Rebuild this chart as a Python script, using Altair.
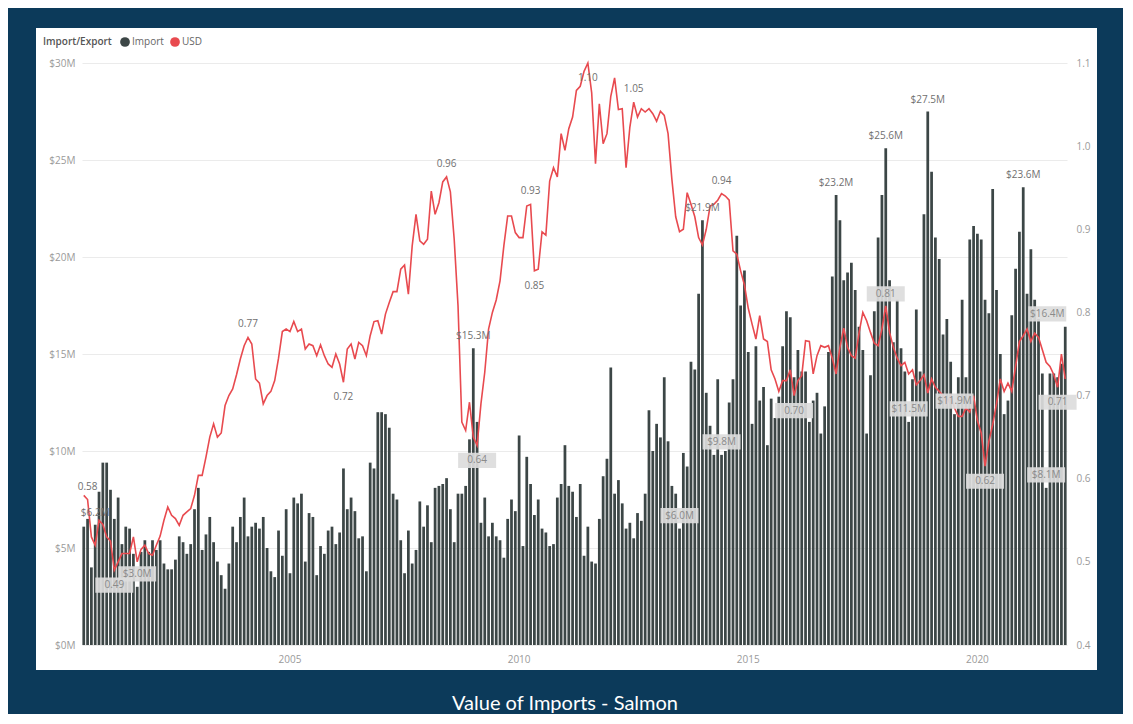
import altair as alt
import pandas as pd

# ---------------- data ----------------
months = pd.period_range("2000-07", "2021-12", freq="M").strftime("%Y-%m").tolist()

imports = (
    [6.1, 6.5, 4.0, 6.2, 7.9, 9.4]
    + [9.4, 8.0, 6.5, 7.6, 5.2, 6.1, 6.0, 4.7, 3.0, 4.8, 5.4, 4.8]
    + [5.4, 4.9, 5.4, 4.2, 3.9, 3.9, 4.4, 5.6, 5.3, 4.7, 5.2, 7.0]
    + [8.1, 4.9, 5.7, 6.6, 5.3, 4.3, 3.6, 2.9, 4.2, 6.1, 5.3, 6.6]
    + [7.6, 5.6, 6.1, 6.3, 6.0, 6.6, 5.0, 3.8, 3.5, 5.9, 4.6, 7.0]
    + [3.7, 7.6, 7.3, 7.8, 4.3, 6.8, 6.6, 3.6, 5.1, 4.7, 5.9, 6.1]
    + [5.2, 5.8, 9.1, 7.0, 7.6, 6.9, 5.5, 5.6, 3.8, 9.4, 9.1, 12.0]
    + [12.0, 11.9, 11.2, 7.8, 7.5, 5.4, 3.7, 5.9, 4.2, 4.9, 7.4, 6.1]
    + [7.2, 5.3, 8.1, 8.2, 8.3, 8.6, 7.0, 5.3, 7.8, 7.8, 8.2, 10.6]
    + [15.3, 11.5, 6.3, 7.6, 5.6, 6.3, 5.6, 5.4, 4.5, 6.5, 7.5, 6.9]
    + [10.8, 5.1, 9.7, 8.3, 6.7, 7.5, 6.0, 5.8, 5.1, 5.2, 7.6, 8.3]
    + [10.3, 8.2, 7.9, 6.6, 8.3, 4.6, 6.1, 4.3, 4.2, 6.5, 8.7, 9.6]
    + [14.3, 7.8, 8.5, 7.3, 6.0, 6.3, 5.5, 6.8, 6.4, 7.8, 12.1, 10.0]
    + [11.4, 10.7, 13.8, 10.5, 8.2, 7.8, 6.0, 9.9, 9.2, 14.6, 14.2, 18.1]
    + [21.9, 13.0, 11.3, 9.8, 13.7, 9.8, 10.0, 12.5, 13.7, 21.1, 17.5, 19.3]
    + [15.1, 11.4, 15.4, 12.6, 13.3, 10.3, 12.7, 11.7, 12.8, 15.4, 17.2, 16.9]
    + [13.8, 15.2, 14.1, 14.1, 11.5, 12.6, 13.0, 10.9, 12.3, 15.1, 19.0, 23.2]
    + [21.9, 18.8, 19.2, 19.7, 18.3, 16.4, 15.2, 10.9, 13.9, 17.2, 21.0, 23.2]
    + [25.6, 18.8, 15.6, 17.8, 15.3, 14.1, 11.5, 13.7, 17.3, 14.1, 22.2, 27.5]
    + [24.4, 21.0, 19.9, 16.0, 16.8, 14.6, 11.9, 13.8, 17.8, 13.8, 20.9, 21.6]
    + [21.2, 20.9, 17.8, 17.1, 23.5, 18.3, 15.0, 11.9, 12.6, 17.0, 19.4, 21.3]
    + [23.6, 18.1, 20.4, 17.8, 16.8, 14.0, 8.1, 14.0, 14.0, 13.8, 14.5, 16.4]
)

usd = (
    [0.58, 0.575, 0.53, 0.52, 0.55, 0.545]
    + [0.53, 0.525, 0.49, 0.50, 0.51, 0.51, 0.51, 0.53, 0.50, 0.515, 0.52, 0.51]
    + [0.508, 0.52, 0.531, 0.55, 0.566, 0.556, 0.552, 0.544, 0.556, 0.56, 0.564, 0.58]
    + [0.604, 0.604, 0.626, 0.65, 0.666, 0.65, 0.655, 0.688, 0.70, 0.708, 0.725, 0.744]
    + [0.76, 0.77, 0.762, 0.72, 0.715, 0.69, 0.70, 0.705, 0.718, 0.745, 0.777, 0.78]
    + [0.777, 0.789, 0.777, 0.78, 0.756, 0.762, 0.76, 0.748, 0.761, 0.748, 0.738, 0.734]
    + [0.75, 0.738, 0.716, 0.756, 0.762, 0.744, 0.764, 0.76, 0.748, 0.772, 0.789, 0.79]
    + [0.774, 0.798, 0.812, 0.825, 0.825, 0.852, 0.857, 0.822, 0.88, 0.918, 0.886, 0.882]
    + [0.888, 0.946, 0.918, 0.932, 0.957, 0.963, 0.945, 0.888, 0.808, 0.668, 0.658, 0.692]
    + [0.65, 0.64, 0.69, 0.728, 0.78, 0.80, 0.815, 0.838, 0.88, 0.916, 0.916, 0.896]
    + [0.89, 0.89, 0.928, 0.93, 0.85, 0.852, 0.897, 0.893, 0.958, 0.974, 0.963, 1.015]
    + [0.995, 1.021, 1.035, 1.067, 1.072, 1.09, 1.10, 1.064, 0.979, 1.051, 1.003, 1.015]
    + [1.06, 1.082, 1.044, 1.045, 0.974, 1.023, 1.053, 1.035, 1.045, 1.041, 1.045, 1.039]
    + [1.03, 1.042, 1.037, 1.015, 0.96, 0.915, 0.897, 0.90, 0.944, 0.93, 0.915, 0.89]
    + [0.881, 0.90, 0.928, 0.93, 0.935, 0.943, 0.94, 0.935, 0.874, 0.87, 0.85, 0.833]
    + [0.805, 0.786, 0.768, 0.796, 0.768, 0.765, 0.731, 0.72, 0.705, 0.718, 0.718, 0.731]
    + [0.70, 0.718, 0.724, 0.766, 0.765, 0.726, 0.748, 0.76, 0.758, 0.76, 0.745, 0.726]
    + [0.758, 0.781, 0.758, 0.748, 0.745, 0.775, 0.80, 0.79, 0.776, 0.763, 0.76, 0.78]
    + [0.808, 0.776, 0.758, 0.745, 0.736, 0.74, 0.726, 0.731, 0.713, 0.718, 0.725, 0.703]
    + [0.72, 0.71, 0.705, 0.70, 0.69, 0.70, 0.685, 0.675, 0.675, 0.685, 0.68, 0.70]
    + [0.67, 0.655, 0.615, 0.645, 0.665, 0.69, 0.72, 0.705, 0.715, 0.705, 0.735, 0.765]
    + [0.772, 0.78, 0.765, 0.775, 0.77, 0.755, 0.74, 0.735, 0.725, 0.71, 0.75, 0.72]
)

year_ticks = ["2005-01", "2010-01", "2015-01", "2020-01"]
left_ticks = [0, 5, 10, 15, 20, 25, 30]
right_ticks = [0.4, 0.5, 0.6, 0.7, 0.8, 0.9, 1.0, 1.1]
series_names = ["Import", "USD"]

# data labels (month index, text)
bar_plain_idx = [3, 102, 162, 197, 210, 221, 246]
bar_plain_txt = ["$6.2M", "$15.3M", "$21.9M", "$23.2M", "$25.6M", "$27.5M", "$23.6M"]
bar_box_idx = [14, 156, 167, 216, 228, 252]
bar_box_txt = ["$3.0M", "$6.0M", "$9.8M", "$11.5M", "$11.9M", "$8.1M"]
bar_box_end_idx = [257]
bar_box_end_txt = ["$16.4M"]
usd_above_idx = [1, 43, 95, 117, 144, 167]
usd_above_txt = ["0.58", "0.77", "0.96", "0.93", "1.05", "0.94"]
usd_below_idx = [68, 118, 132]
usd_below_txt = ["0.72", "0.85", "1.10"]
usd_box_above_idx = [210]
usd_box_above_txt = ["0.81"]
usd_box_below_idx = [8, 103, 186, 236, 255]
usd_box_below_txt = ["0.49", "0.64", "0.70", "0.62", "0.71"]

title_text = "Value of Imports - Salmon"

# ---------------- styling ----------------
NAVY = "#0c3a5a"
BAR = "#3c4646"
LINE = "#e84a4f"
AXIS_GREY = "#9a9a9a"
FONT = "Open Sans"
W, H = 985, 582
PAD = {"left": 74, "top": 55, "right": 56, "bottom": 69}
BOX = "M-1,-0.4L1,-0.4L1,0.4L-1,0.4Z"

df = pd.DataFrame({"month": months, "Import": imports, "USD": usd})


def labels(idx, txt, values):
    return pd.DataFrame({"month": [months[i] for i in idx],
                         "val": [values[i] for i in idx],
                         "txt": txt})


x_scale = alt.Scale(domain=months, paddingInner=0.28, paddingOuter=0.1)
yl_scale = alt.Scale(domain=[0, 30], nice=False, zero=True)
yr_scale = alt.Scale(domain=[0.4, 1.1], nice=False, zero=False)

x_axis = alt.Axis(values=year_ticks, labelExpr="slice(datum.value, 0, 4)", title=None,
                  ticks=False, domain=False, grid=False, labelAngle=0, labelPadding=9,
                  labelColor=AXIS_GREY, labelFontSize=10, labelFont=FONT)
x_enc = alt.X("month:O", scale=x_scale, axis=x_axis)

left_axis = alt.Axis(values=left_ticks, labelExpr="'$' + datum.value + 'M'", title=None,
                     grid=True, gridColor="#ebebeb", gridWidth=1, domain=False, ticks=False,
                     labelColor=AXIS_GREY, labelFontSize=10, labelFont=FONT, labelPadding=7)
right_axis = alt.Axis(orient="right", values=right_ticks, format=".1f", title=None,
                      grid=False, domain=False, ticks=False, labelColor=AXIS_GREY,
                      labelFontSize=10, labelFont=FONT, labelPadding=9)

one = pd.DataFrame({"k": [0]})

# navy frame around the white card (canvas background is white)
L, T, R, B = -PAD["left"], -PAD["top"], W + PAD["right"], H + PAD["bottom"]
frame_top = alt.Chart(one).mark_rect(color=NAVY).encode(
    x=alt.value(L), x2=alt.value(R), y=alt.value(T), y2=alt.value(-35))
frame_bottom = alt.Chart(one).mark_rect(color=NAVY).encode(
    x=alt.value(L), x2=alt.value(R), y=alt.value(H + 25), y2=alt.value(B))
frame_left = alt.Chart(one).mark_rect(color=NAVY).encode(
    x=alt.value(L), x2=alt.value(-46), y=alt.value(T), y2=alt.value(B))
frame_right = alt.Chart(one).mark_rect(color=NAVY).encode(
    x=alt.value(W + 30), x2=alt.value(R), y=alt.value(T), y2=alt.value(B))

bars = alt.Chart(df).mark_bar(color=BAR).encode(
    x=x_enc, y=alt.Y("Import:Q", scale=yl_scale, axis=left_axis)
)

line = alt.Chart(df).mark_line(color=LINE, strokeWidth=1.6).encode(
    x=x_enc, y=alt.Y("USD:Q", scale=yr_scale, axis=right_axis)
)


def text_layer(data, scale, dy):
    return alt.Chart(data).mark_text(fontSize=10, font=FONT, color="#707070", dy=dy).encode(
        x=x_enc, y=alt.Y("val:Q", scale=scale, axis=None), text="txt:N"
    )


def boxed_layer(data, scale, dy, dx=0):
    box = alt.Chart(data).mark_point(shape=BOX, size=1444, filled=True, color="#dcdcdc",
                                     opacity=0.92, strokeWidth=0, yOffset=dy,
                                     xOffset=dx).encode(
        x=x_enc, y=alt.Y("val:Q", scale=scale, axis=None)
    )
    txt = alt.Chart(data).mark_text(fontSize=10, font=FONT, color="#8a8a8a", dy=dy,
                                    dx=dx).encode(
        x=x_enc, y=alt.Y("val:Q", scale=scale, axis=None), text="txt:N"
    )
    return [box, txt]


legend_pts = alt.Chart(pd.DataFrame({"series": series_names})).mark_point(
    filled=True, opacity=0, shape="circle"
).encode(
    x=alt.value(0), y=alt.value(0),
    color=alt.Color("series:N", scale=alt.Scale(domain=series_names, range=[BAR, LINE]),
                    legend=alt.Legend(title="Import/Export", orient="none", legendX=-39,
                                      legendY=-26, direction="horizontal", titleOrient="left",
                                      symbolType="circle", symbolSize=95, symbolOpacity=1,
                                      symbolStrokeWidth=0, labelFontSize=10, labelFont=FONT,
                                      labelColor="#666666", titleFontSize=10, titleFont=FONT,
                                      titleColor="#555555", titleFontWeight=600,
                                      titlePadding=8, columnPadding=6, labelOffset=2))
)

title = alt.Chart(one).mark_text(text=title_text, color="white", fontSize=20, font="Lato",
                                 align="center", baseline="middle").encode(
    x=alt.value(483), y=alt.value(641)
)

layers = [frame_top, frame_bottom, frame_left, frame_right, bars, line,
          text_layer(labels(bar_plain_idx, bar_plain_txt, imports), yl_scale, -12),
          text_layer(labels(usd_above_idx, usd_above_txt, usd), yr_scale, -13),
          text_layer(labels(usd_below_idx, usd_below_txt, usd), yr_scale, 15)]
layers += boxed_layer(labels(bar_box_idx, bar_box_txt, imports), yl_scale, -13)
layers += boxed_layer(labels(bar_box_end_idx, bar_box_end_txt, imports), yl_scale, -13, -18)
layers += boxed_layer(labels(usd_box_above_idx, usd_box_above_txt, usd), yr_scale, -12)
layers += boxed_layer(labels(usd_box_below_idx, usd_box_below_txt, usd), yr_scale, 15)
layers += [legend_pts, title]

chart = alt.layer(*layers).resolve_scale(y="independent").properties(
    width=W, height=H,
    autosize=alt.AutoSizeParams(type="none"),
    padding=PAD,
    background="white",
).configure_view(strokeWidth=0)

chart.save("out.html", embed_options={"renderer": "svg", "actions": False})
